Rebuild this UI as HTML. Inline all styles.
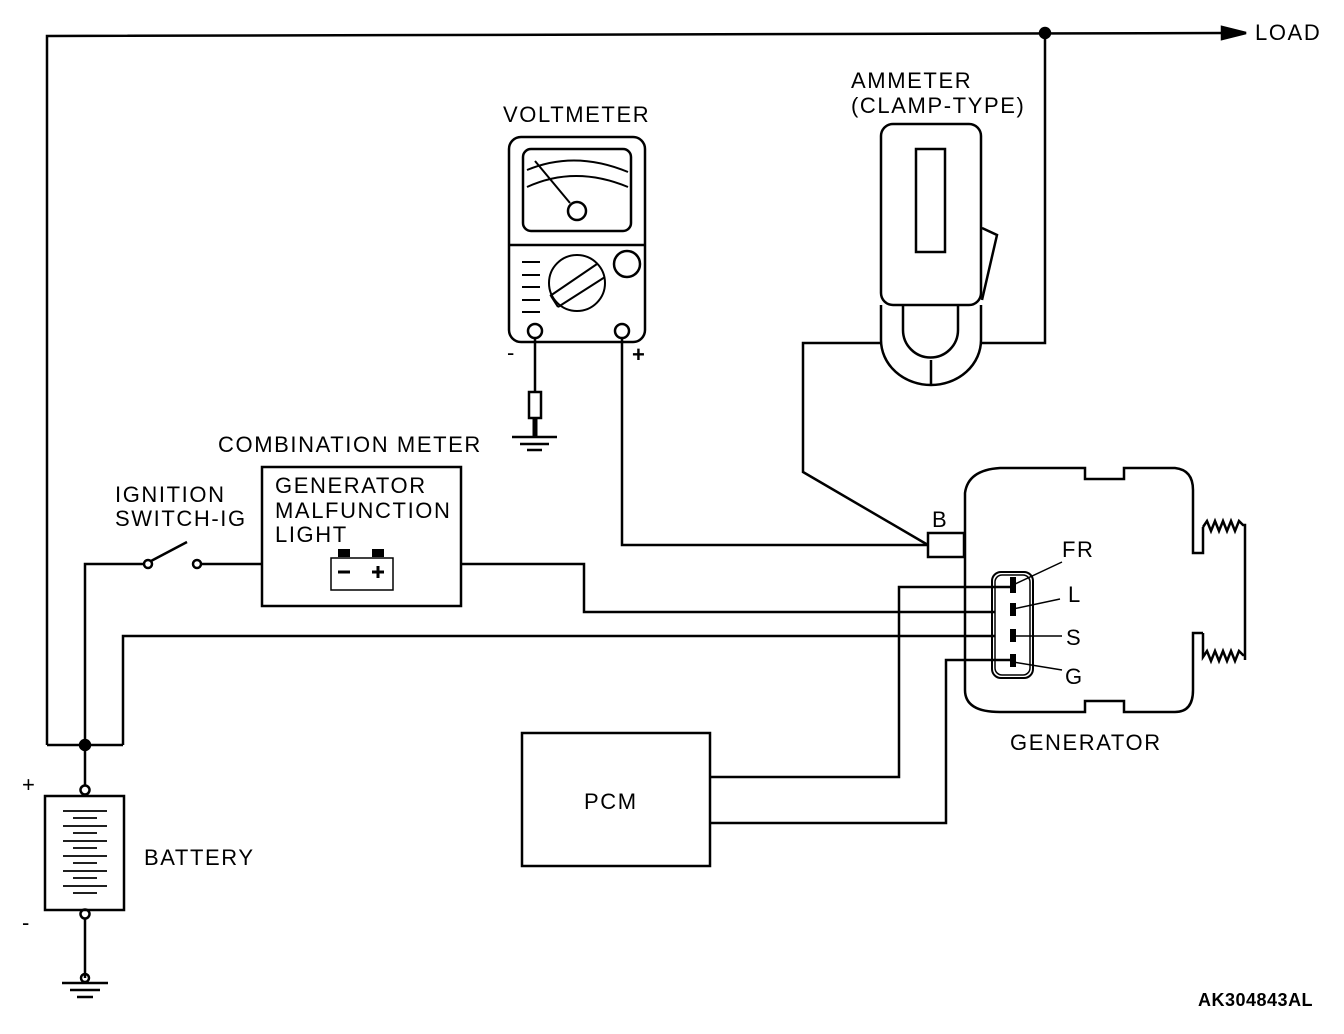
<!DOCTYPE html>
<html><head><style>body{margin:0;background:#fff}svg{display:block}text{font-family:"Liberation Sans",Arial,sans-serif;font-size:22px;fill:#000;letter-spacing:1.6px}</style></head><body>
<svg width="1344" height="1034" viewBox="0 0 1344 1034" fill="none" stroke="#000" stroke-width="2.5">
<polyline points="47,745 47,36 1228,33"/>
<polygon points="1222,27 1246,33 1222,39" fill="#000"/>
<text x="1255" y="40" stroke="none">LOAD</text>
<circle cx="1045" cy="33" r="5" fill="#000"/>
<polyline points="1045,33 1045,343 982,343"/>
<polyline points="881,343 803,343 803,472 928,545"/>
<text x="503" y="122" stroke="none">VOLTMETER</text>
<rect x="509" y="137" width="136" height="205" rx="12"/>
<rect x="523" y="149" width="108" height="82" rx="8"/>
<line x1="509" y1="245" x2="645" y2="245"/>
<path d="M527,170 Q575,150 628,172 M527,187 Q575,165 628,187" stroke-width="2"/>
<line x1="535" y1="161" x2="570" y2="203" stroke-width="2"/>
<circle cx="577" cy="211" r="9"/>
<circle cx="627" cy="264" r="13"/>
<circle cx="577" cy="283" r="28" stroke-width="2"/>
<path d="M550,296 L597,264 M558,307 L605,277 M551,296 L558,307" stroke-width="2"/>
<path d="M522,262 H540 M522,275 H540 M522,287 H540 M522,300 H540 M522,312 H540" stroke-width="2"/>
<circle cx="535" cy="331" r="7"/><circle cx="622" cy="331" r="7"/>
<text x="507" y="360" stroke="none">-</text>
<text x="632" y="362" stroke="none" font-weight="bold">+</text>
<line x1="535" y1="338" x2="535" y2="392"/>
<rect x="529" y="392" width="12" height="26"/>
<line x1="535" y1="418" x2="535" y2="437" stroke-width="5"/>
<path d="M512,437 H557 M520,444 H549 M527,450 H542"/>
<polyline points="622,338 622,545 928,545"/>
<text x="851" y="88" stroke="none">AMMETER</text>
<text x="851" y="113" stroke="none">(CLAMP-TYPE)</text>
<rect x="881" y="124" width="100" height="181" rx="12"/>
<rect x="916" y="149" width="29" height="103"/>
<polyline points="982,228 997,235 982,300"/>
<path d="M881,305 V340 A50,45 0 0 0 981,340 V305"/>
<path d="M903,305 V330 A27,27 0 0 0 958,330 V305"/>
<line x1="931" y1="360" x2="931" y2="386"/>
<text x="218" y="452" stroke="none">COMBINATION METER</text>
<rect x="262" y="467" width="199" height="139"/>
<text x="275" y="493" stroke="none">GENERATOR</text>
<text x="275" y="518" stroke="none">MALFUNCTION</text>
<text x="275" y="542" stroke="none">LIGHT</text>
<rect x="331" y="558" width="62" height="32" stroke-width="1.5"/>
<rect x="338" y="549" width="12" height="8" fill="#000" stroke="none"/>
<rect x="372" y="549" width="12" height="8" fill="#000" stroke="none"/>
<path d="M338,572 H350 M372,572 H384 M378,566 V578" stroke-width="3"/>
<text x="115" y="502" stroke="none">IGNITION</text>
<text x="115" y="526" stroke="none">SWITCH-IG</text>
<polyline points="85,745 85,564 144,564"/>
<circle cx="148" cy="564" r="4"/><circle cx="197" cy="564" r="4"/>
<line x1="151" y1="561" x2="187" y2="542"/>
<line x1="201" y1="564" x2="262" y2="564"/>
<polyline points="461,564 584,564 584,612 995,612"/>
<polyline points="123,745 123,636 995,636"/>
<line x1="47" y1="745" x2="123" y2="745"/>
<circle cx="85" cy="745" r="5" fill="#000"/>
<rect x="522" y="733" width="188" height="133"/>
<text x="584" y="809" stroke="none">PCM</text>
<polyline points="710,777 899,777 899,587 1013,587"/>
<polyline points="710,823 946,823 946,660 1013,660"/>
<text x="22" y="792" stroke="none">+</text>
<text x="22" y="930" stroke="none">-</text>
<text x="144" y="865" stroke="none">BATTERY</text>
<line x1="85" y1="745" x2="85" y2="786"/>
<circle cx="85" cy="790" r="4.5"/>
<rect x="45" y="796" width="79" height="114"/>
<path d="M63,811 H107 M73,818 H97 M63,826 H107 M73,833 H97 M63,841 H107 M73,848 H97 M63,856 H107 M73,863 H97 M63,871 H107 M73,878 H97 M63,886 H107 M73,893 H97" stroke-width="1.8"/>
<circle cx="85" cy="914" r="4.5"/>
<line x1="85" y1="918" x2="85" y2="978"/>
<circle cx="85" cy="978" r="4"/>
<path d="M62,983 H108 M70,990 H100 M77,997 H93"/>
<path d="M965,690 V493 Q968,470 1000,468 H1085 V479 H1124 V468 H1175 Q1193,470 1193,490 V553 H1203 V527"/>
<path d="M1203,527 l4,-6 l4,10 l4,-10 l4,10 l4,-10 l4,10 l4,-10 l4,10 l4,-10 l4,4 H1245 V660"/>
<path d="M1203,633 V657 l4,-6 l4,10 l4,-10 l4,10 l4,-10 l4,10 l4,-10 l4,10 l4,-10 l4,4 H1245"/>
<path d="M1203,633 H1193 V690 Q1193,712 1175,712 H1124 V701 H1085 V712 H1000 Q965,712 965,690"/>
<rect x="928" y="533" width="36" height="24"/>
<text x="932" y="527" stroke="none">B</text>
<rect x="992" y="572" width="41" height="106" rx="9" stroke-width="2"/>
<rect x="995" y="575" width="35" height="100" rx="7" stroke-width="1.5"/>
<path d="M1013,577 V593 M1013,603 V616 M1013,629 V642 M1013,654 V667" stroke-width="6"/>
<path d="M1013,585 L1062,562 M1013,609 L1060,599 M1013,636 L1062,636 M1013,662 L1062,670" stroke-width="1.5"/>
<text x="1062" y="557" stroke="none">FR</text>
<text x="1068" y="602" stroke="none">L</text>
<text x="1066" y="645" stroke="none">S</text>
<text x="1065" y="684" stroke="none">G</text>
<text x="1010" y="750" stroke="none">GENERATOR</text>
<text x="1198" y="1006" stroke="none" font-weight="bold" style="font-size:18px;letter-spacing:0.5px">AK304843AL</text>
</svg>
</body></html>
